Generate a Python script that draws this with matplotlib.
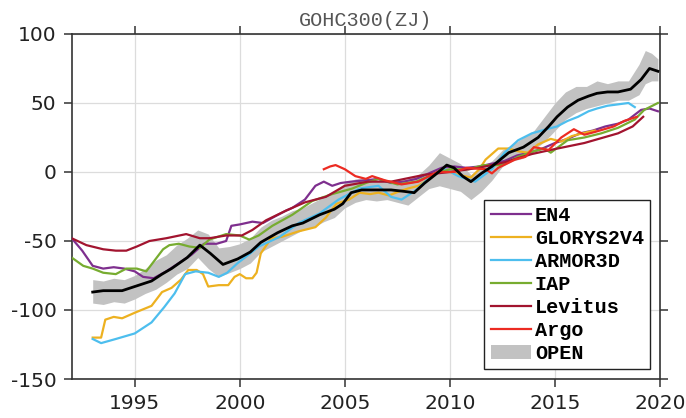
import matplotlib
matplotlib.use("Agg")
import matplotlib.pyplot as plt
from matplotlib.patches import Patch
import numpy as np

plt.rcParams["axes.unicode_minus"] = False

# --- EN4 ---
en4_years = [1992.0, 1992.5, 1993.0, 1993.5, 1994.0, 1994.5, 1995.0, 1995.4, 1995.9, 1996.5,
             1997.1, 1997.7, 1998.3, 1998.9, 1999.35, 1999.6, 2000.0, 2000.6, 2001.1, 2001.7,
             2002.2, 2002.5, 2003.1, 2003.6, 2004.0, 2004.4, 2004.8, 2005.3, 2006.0, 2006.6,
             2007.2, 2007.8, 2008.4, 2009.0, 2009.6, 2010.2, 2010.8, 2011.4, 2012.0, 2012.6,
             2013.2, 2013.8, 2014.4, 2015.0, 2015.6, 2016.2, 2016.8, 2017.4, 2018.0, 2018.5,
             2019.1, 2019.5, 2019.9]
en4_vals = [-48, -57, -68, -70, -69, -70, -72, -76, -77, -72,
            -66, -60, -52, -52, -50, -39, -38, -36, -37, -32,
            -28, -26, -20, -10, -7, -10, -8, -7, -6, -5,
            -8, -7, -5, -1, 3, 4, 3, 4, 6, 8,
            12, 14, 17, 21, 24, 28, 30, 33, 35, 38,
            45, 46, 44]

# --- GLORYS2V4 ---
glorys_years = [1993.0, 1993.4, 1993.6, 1994.0, 1994.4, 1995.0, 1995.8, 1996.3, 1996.75, 1997.2,
                1997.55, 1997.95, 1998.25, 1998.5, 1999.0, 1999.45, 1999.75, 2000.0, 2000.3, 2000.6,
                2000.8, 2001.0, 2001.5, 2002.0, 2002.8, 2003.6, 2004.1, 2004.6, 2005.2, 2005.7,
                2006.2, 2006.6, 2007.1, 2007.6, 2008.0, 2008.5, 2009.0, 2009.6, 2010.0, 2010.4,
                2011.0, 2011.4, 2011.7, 2012.3, 2012.8, 2013.25, 2013.7, 2014.2, 2014.8, 2015.3,
                2015.8, 2016.3, 2016.9]
glorys_vals = [-120, -120, -107, -105, -106, -102, -97, -87, -84, -78,
               -71, -71, -74, -83, -82, -82, -76, -74, -77, -77,
               -73, -59, -48, -47, -43, -40, -33, -23, -20, -15,
               -16, -15, -17, -14, -12, -10, -5, 2, 0, -2,
               -4, 2, 9, 17, 17, 15, 14, 20, 24, 22,
               26, 28, 30]

# --- ARMOR3D ---
armor_years = [1993.0, 1993.4, 1994.1, 1995.0, 1995.8, 1996.4, 1996.9, 1997.4, 1997.9, 1998.5,
               1999.0, 1999.4, 1999.9, 2000.5, 2000.9, 2001.9, 2002.8, 2003.8, 2004.7, 2005.7,
               2006.6, 2007.2, 2007.7, 2008.4, 2009.1, 2009.8, 2010.4, 2011.2, 2012.0, 2012.6,
               2013.25, 2013.9, 2014.6, 2015.1, 2015.6, 2016.1, 2016.6, 2017.0, 2017.5, 2018.0,
               2018.5, 2018.8]
armor_vals = [-121, -124, -121, -117, -109, -98, -88, -74, -72, -73,
              -76, -73, -66, -59, -54, -47, -37, -30, -20, -12,
              -10, -18, -20, -13, -3, 2, -3, -7, 2, 14,
              23, 28, 31, 33, 37, 40, 44, 46, 48, 49,
              50, 47]

# --- IAP ---
iap_years = [1992.0, 1992.55, 1993.0, 1993.5, 1994.1, 1994.6, 1995.1, 1995.55, 1996.0, 1996.35,
             1996.65, 1997.1, 1997.6, 1998.1, 1998.55, 1999.35, 2000.0, 2000.45, 2000.9, 2001.55,
             2002.5, 2003.45, 2004.4, 2005.35, 2006.0, 2006.6, 2007.5, 2008.4, 2009.3, 2010.0,
             2010.9, 2011.6, 2012.5, 2013.25, 2014.0, 2014.5, 2014.8, 2015.6, 2016.4, 2017.2,
             2018.0, 2018.8, 2019.25, 2019.9]
iap_vals = [-62, -68, -70, -73, -74, -70, -70, -72, -63, -56,
            -53, -52, -54, -55, -49, -45, -46, -49, -46, -39,
            -31, -21, -16, -12, -8, -5, -9, -7, -1, 2,
            2, 5, 5, 11, 15, 17, 14, 23, 25, 28,
            32, 38, 45, 50]

# --- Levitus ---
lev_years = [1992.0, 1992.7, 1993.5, 1994.1, 1994.6, 1995.1, 1995.7, 1996.5, 1997.45, 1998.1,
             1998.55, 1999.35, 2000.1, 2000.6, 2001.25, 2002.2, 2003.1, 2004.1, 2005.0, 2006.1,
             2007.2, 2008.8, 2010.0, 2011.35, 2012.6, 2013.9, 2014.8, 2016.4, 2018.0, 2018.7,
             2019.2]
lev_vals = [-48, -53, -56, -57, -57, -54, -50, -48, -45, -48,
            -48, -46, -46, -42, -35, -28, -22, -18, -10, -7,
            -7, -2, 0, 3, 7, 13, 16, 21, 28, 33,
            40]

# --- Argo ---
argo_years = [2004.0, 2004.3, 2004.56, 2005.0, 2005.5, 2006.0, 2006.3, 2006.9, 2007.7, 2008.5,
              2009.4, 2010.2, 2010.8, 2011.7, 2012.0, 2012.3, 2013.1, 2013.6, 2014.0, 2014.7,
              2015.3, 2015.9, 2016.4, 2016.9, 2017.35, 2017.8, 2018.3, 2018.9]
argo_vals = [2, 4, 5, 2, -3, -5, -3, -6, -9, -7,
             0, 0, 3, 2, -1, 3, 9, 11, 18, 16,
             25, 31, 27, 29, 31, 33, 37, 40]

# --- OPEN ensemble mean ---
open_years = [1993.0, 1993.5, 1994.4, 1995.0, 1995.8, 1996.3, 1996.75, 1997.5, 1998.1, 1998.6,
              1999.2, 1999.9, 2000.5, 2001.0, 2001.8, 2002.5, 2003.0, 2003.8, 2004.5, 2004.9,
              2005.3, 2005.8, 2006.2, 2007.2, 2007.8, 2008.3, 2008.8, 2009.3, 2009.85, 2010.2,
              2010.6, 2011.0, 2011.5, 2012.0, 2012.8, 2013.5, 2014.2, 2014.7, 2015.1, 2015.6,
              2016.1, 2016.6, 2017.0, 2017.5, 2018.0, 2018.6, 2019.1, 2019.5, 2019.9]
open_vals = [-87, -86, -86, -83, -79, -74, -70, -62, -53, -59,
             -67, -63, -58, -51, -44, -39, -37, -31, -27, -23,
             -15, -13, -13, -13, -14, -15, -8, -2, 5, 3,
             -3, -7, -1, 4, 14, 18, 25, 33, 40, 47,
             52, 55, 57, 58, 58, 60, 67, 75, 73]

# --- OPEN ensemble spread ---
band_years = [1993.0, 1993.5, 1994.0, 1994.5, 1995.0, 1995.5, 1996.0, 1996.5, 1997.0, 1997.5,
              1998.0, 1998.5, 1999.0, 1999.5, 2000.0, 2000.5, 2001.0, 2001.5, 2002.0, 2002.5,
              2003.0, 2003.5, 2004.0, 2004.5, 2005.0, 2005.5, 2006.0, 2006.5, 2007.0, 2007.5,
              2008.0, 2008.5, 2009.0, 2009.5, 2010.0, 2010.5, 2011.0, 2011.5, 2012.0, 2012.5,
              2013.0, 2013.5, 2014.0, 2014.5, 2015.0, 2015.5, 2016.0, 2016.5, 2017.0, 2017.5,
              2018.0, 2018.5, 2019.0, 2019.3, 2019.6, 2019.9]
band_hi = [-78, -79, -77, -78, -75, -70, -64, -60, -53, -48,
           -42, -45, -55, -54, -52, -48, -40, -35, -32, -28,
           -26, -22, -18, -14, -8, -5, -4, -6, -7, -6,
           -5, -2, 5, 14, 10, 6, -2, 4, 8, 16,
           20, 25, 30, 40, 50, 58, 62, 62, 66, 64,
           66, 66, 78, 88, 86, 82]
band_lo = [-95, -96, -94, -95, -92, -88, -85, -80, -74, -70,
           -62, -70, -76, -73, -70, -66, -58, -54, -50, -46,
           -42, -40, -36, -33, -26, -22, -20, -21, -20, -22,
           -24, -18, -12, -10, -12, -14, -20, -14, -6, 4,
           8, 10, 16, 22, 30, 38, 43, 46, 48, 50,
           52, 52, 56, 64, 66, 66]

x_ticks = [1995, 2000, 2005, 2010, 2015, 2020]
y_ticks = [-150, -100, -50, 0, 50, 100]

fig = plt.figure(figsize=(6.86, 4.18), dpi=100)
ax = fig.add_axes([0.1045, 0.0933, 0.8576, 0.8254])

ax.fill_between(band_years, band_lo, band_hi, color="#c2c2c2", linewidth=0, zorder=2)

lw = 1.6
ax.plot(en4_years, en4_vals, color=(0.494, 0.184, 0.556), lw=lw, zorder=3, label="EN4")
ax.plot(glorys_years, glorys_vals, color=(0.929, 0.694, 0.125), lw=lw, zorder=3, label="GLORYS2V4")
ax.plot(armor_years, armor_vals, color=(0.301, 0.745, 0.933), lw=lw, zorder=3, label="ARMOR3D")
ax.plot(iap_years, iap_vals, color=(0.466, 0.674, 0.188), lw=lw, zorder=3, label="IAP")
ax.plot(lev_years, lev_vals, color=(0.635, 0.078, 0.184), lw=lw, zorder=3, label="Levitus")
ax.plot(argo_years, argo_vals, color="#ec2b22", lw=lw, zorder=3, label="Argo")
ax.plot(open_years, open_vals, color="black", lw=2.0, zorder=4)

ax.set_xlim(1992, 2020)
ax.set_ylim(-150, 100)
ax.set_xticks(x_ticks)
ax.set_yticks(y_ticks)
ax.grid(True, color="#dcdcdc", linewidth=0.9, zorder=0)
ax.set_axisbelow(True)

for s in ax.spines.values():
    s.set_color("#333333")
    s.set_linewidth(1.2)
ax.tick_params(direction="out", length=6, width=1.1, color="#333333",
               top=True, right=True, labelsize=14.5, labelcolor="#222222", pad=5)

ax.set_title("GOHC300(ZJ)", fontfamily="Liberation Mono", fontsize=14.5,
             color="#555555", pad=6)

handles, labels = ax.get_legend_handles_labels()
handles.append(Patch(facecolor="#c2c2c2", edgecolor="none"))
labels.append("OPEN")
leg = ax.legend(handles, labels, loc="lower right", bbox_to_anchor=(0.983, 0.029),
                prop={"family": "Liberation Mono", "weight": "bold", "size": 14.5},
                frameon=True, fancybox=False, framealpha=1, edgecolor="#222222",
                handlelength=2.0, handletextpad=0.2, labelspacing=0.2,
                borderpad=0.3, borderaxespad=0)
leg.get_frame().set_linewidth(1.0)
leg.set_zorder(10)

fig.savefig("out.png", dpi=100)
